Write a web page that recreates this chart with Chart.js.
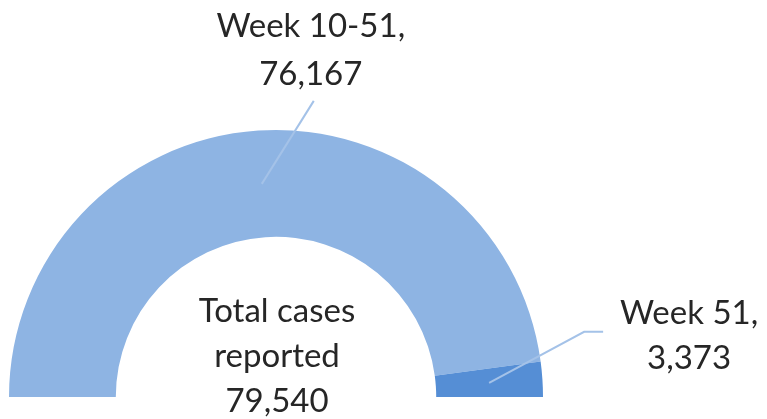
<!DOCTYPE html>
<html>
<head>
<meta charset="utf-8">
<script src="https://cdn.jsdelivr.net/npm/chart.js@4/dist/chart.umd.min.js"></script>
<style>
  html, body { margin: 0; padding: 0; background: #fff; }
  #wrap { width: 767px; height: 419px; position: relative; }
</style>
</head>
<body>
<div id="wrap"><canvas id="halfDonut"></canvas></div>
<script>
/* ── Data ─────────────────────────────────────────────── */

const sliceNames  = ['Week 10-51', 'Week 51'];
const sliceValues = [76167, 3373];
const sliceColors = ['#8EB4E3', '#558ED5'];
const centerLines = ['Total cases', 'reported', '79,540'];

/* ── Label placement (offsets from slice anchor) ─────── */

const LABELS = [
  { path: [[52, -83]], textX: 49, baselines: [-147, -99] },
  { path: [[95, -51], [114, -51]], textX: 200, baselines: [-59, -14] }
];

const FONT      = '33px Lato, "Open Sans", sans-serif';
const TEXT_CLR  = '#262626';
const LEADER    = '#A4C2E8';

/* ── Label + center text plugin ──────────────────────── */

const labelPlugin = {
  id: 'labelPlugin',
  afterDraw(chart) {
    const ctx  = chart.ctx;
    const arcs = chart.getDatasetMeta(0).data;
    if (!arcs.length) return;

    ctx.save();
    ctx.font = FONT;
    ctx.fillStyle = TEXT_CLR;
    ctx.textAlign = 'center';
    ctx.textBaseline = 'alphabetic';

    arcs.forEach((arc, i) => {
      const mid = (arc.startAngle + arc.endAngle) / 2;
      const r   = (arc.innerRadius + arc.outerRadius) / 2;
      const ax  = arc.x + Math.cos(mid) * r;
      const ay  = arc.y + Math.sin(mid) * r;
      const cfg = LABELS[i];

      ctx.strokeStyle = LEADER;
      ctx.lineWidth = 2;
      ctx.beginPath();
      ctx.moveTo(ax, ay);
      cfg.path.forEach(p => ctx.lineTo(ax + p[0], ay + p[1]));
      ctx.stroke();

      const lines = [sliceNames[i] + ',', sliceValues[i].toLocaleString('en-US')];
      lines.forEach((t, k) => ctx.fillText(t, ax + cfg.textX, ay + cfg.baselines[k]));
    });

    const cx = arcs[0].x, cy = arcs[0].y;
    [-75, -30, 15].forEach((dy, k) => ctx.fillText(centerLines[k], cx + 1, cy + dy));
    ctx.restore();
  }
};

/* ── Chart ───────────────────────────────────────────── */

new Chart(document.getElementById('halfDonut'), {
  type: 'doughnut',
  data: {
    labels: sliceNames,
    datasets: [{
      data: sliceValues,
      backgroundColor: sliceColors,
      borderWidth: 0,
      offset: 0,
      hoverOffset: 0
    }]
  },
  options: {
    responsive: true,
    maintainAspectRatio: false,
    animation: false,
    rotation: -90,
    circumference: 180,
    cutout: '60%',
    layout: { padding: { left: 9, right: 224, top: 130, bottom: 22 } },
    plugins: {
      legend: { display: false },
      tooltip: { enabled: false }
    }
  },
  plugins: [labelPlugin]
});
</script>
</body>
</html>
